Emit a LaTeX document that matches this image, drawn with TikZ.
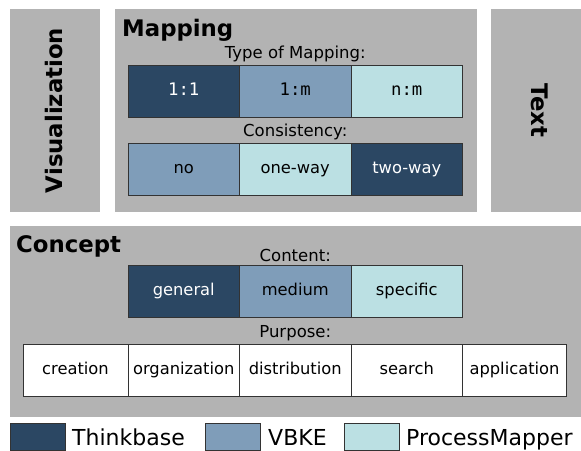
\documentclass[tikz,border=0pt]{standalone}
\usepackage{fontspec}
\setmainfont{DejaVu Sans}
\newfontfamily\monofont{DejaVu Sans Mono}
\usetikzlibrary{positioning}

\definecolor{thinkbase}{HTML}{2B4763}
\definecolor{vbke}{HTML}{7F9DB9}
\definecolor{procmap}{HTML}{BBE0E3}
\definecolor{panelgray}{HTML}{B3B3B3}
\definecolor{celledge}{HTML}{333333}

\tikzset{
  panel/.style={fill=panelgray, anchor=north west, inner sep=0pt, outer sep=0pt},
  title/.style={anchor=base west, inner sep=0pt, font=\fontsize{22.8}{26}\selectfont\bfseries},
  sidetitle/.style={inner sep=0pt, font=\fontsize{22.8}{26}\selectfont\bfseries},
  rowlabel/.style={inner sep=0pt, font=\fontsize{16.5}{19}\selectfont},
  cell/.style={draw=celledge, line width=1pt, minimum width=111.5pt, minimum height=52pt,
    inner sep=0pt, outer sep=0pt, text height=12pt, text depth=3pt,
    font=\fontsize{16.3}{19}\selectfont},
  ratio/.style={font=\monofont\fontsize{17.3}{19}\selectfont},
  dark/.style={cell, fill=thinkbase, text=white},
  mid/.style={cell, fill=vbke},
  light/.style={cell, fill=procmap},
  plain/.style={cell, fill=white},
  swatch/.style={draw=celledge, line width=1pt, anchor=north west, minimum width=55pt,
    minimum height=27pt, inner sep=0pt, outer sep=0pt},
  legendtext/.style={anchor=base west, inner sep=0pt, font=\fontsize{22}{26}\selectfont}
}

\begin{document}
\begin{tikzpicture}[x=1pt, y=-1pt, node distance=0pt]
  \useasboundingbox (0,0) rectangle (581,450);

  % panels
  \node[panel, minimum width=90pt, minimum height=203pt] (vispanel) at (10,9) {};
  \node[panel, minimum width=362pt, minimum height=203pt] (mappanel) at (115,9) {};
  \node[panel, minimum width=91pt, minimum height=203pt] (textpanel) at (491,9) {};
  \node[panel, minimum width=572pt, minimum height=191pt] (conpanel) at (10,226) {};

  \node[sidetitle, xshift=-1pt, rotate=90] (vistitle) at (vispanel.center) {Visualization};
  \node[sidetitle, xshift=3pt, rotate=-90] (texttitle) at (textpanel.center) {Text};
  \node[title] (maptitle) at (122,36) {Mapping};
  \node[title] (contitle) at (16,252) {Concept};

  % type of mapping
  \node[dark, ratio, anchor=north west] (onetoone) at (128,65) {1:1};
  \node[mid, ratio, right = of onetoone] (onetomany) {1:m};
  \node[light, ratio, right = of onetomany] (manytomany) {n:m};
  \node[rowlabel, above = 3pt of onetomany] (typelabel) {Type of Mapping:};

  % consistency
  \node[mid, anchor=north west] (consno) at (128,143) {no};
  \node[light, right = of consno] (oneway) {one-way};
  \node[dark, right = of oneway] (twoway) {two-way};
  \node[rowlabel, above = 3pt of oneway] (conslabel) {Consistency:};

  % content
  \node[dark, anchor=north west] (general) at (128,265) {general};
  \node[mid, right = of general] (medium) {medium};
  \node[light, right = of medium] (specific) {specific};
  \node[rowlabel, above = 3pt of medium] (contentlabel) {Content:};

  % purpose
  \node[plain, minimum width=105pt, anchor=north west] (creation) at (23,344) {creation};
  \node[plain, right = of creation] (organization) {organization};
  \node[plain, right = of organization] (distribution) {distribution};
  \node[plain, right = of distribution] (search) {search};
  \node[plain, minimum width=104pt, right = of search] (application) {application};
  \node[rowlabel, above = 3pt of distribution] (purposelabel) {Purpose:};

  % legend
  \node[swatch, fill=thinkbase] (keytb) at (10,423.5) {};
  \node[swatch, fill=vbke] (keyvb) at (205,423.5) {};
  \node[swatch, fill=procmap] (keypm) at (344.5,423.5) {};
  \node[legendtext] (nametb) at (72,445) {Thinkbase};
  \node[legendtext] (namevb) at (268,445) {VBKE};
  \node[legendtext] (namepm) at (406,445) {ProcessMapper};
\end{tikzpicture}
\end{document}
